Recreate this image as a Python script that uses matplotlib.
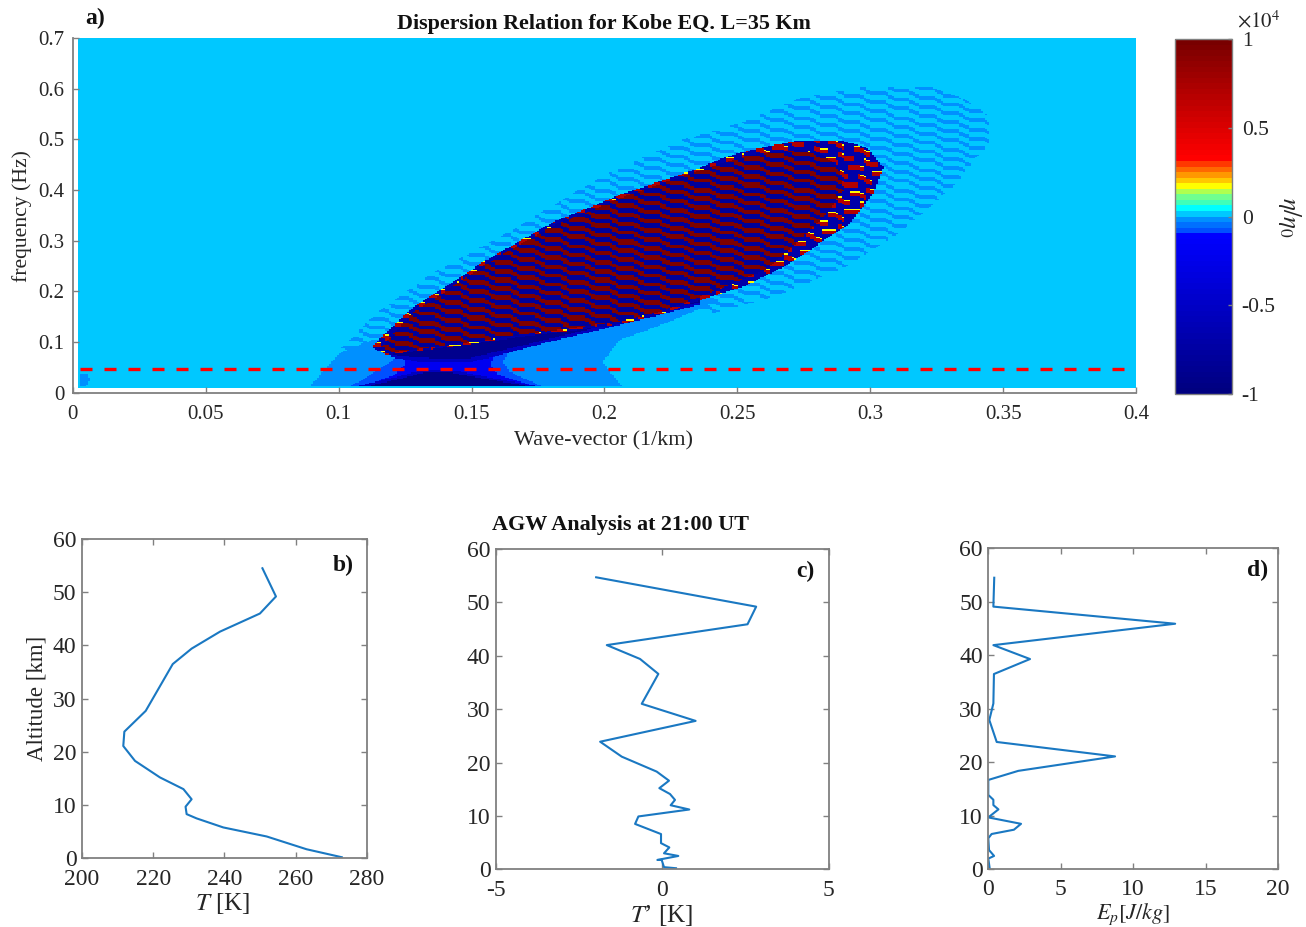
import numpy as np
import matplotlib
matplotlib.use('Agg')
import matplotlib.pyplot as plt
from matplotlib.colors import ListedColormap
from matplotlib.path import Path

plt.rcParams['font.family'] = ['Liberation Serif', 'DejaVu Serif']
plt.rcParams['mathtext.fontset'] = 'stix'
plt.rcParams['axes.unicode_minus'] = False

W, H = 1306, 927
GRAY = '#808080'
TXT = '#262626'
LINE = '#1a78c2'

# panel b
alt_b = [0.2, 1.7, 4.1, 5.8, 7.5, 8.3, 9.7, 11.1, 13, 15.2, 18.3, 21.1, 23.8, 27.7, 36.5, 39.4, 42.6, 46, 49.2, 54.5]
temp_b = [273, 263.1, 251.9, 239.7, 232.2, 229.4, 229.1, 230.8, 228.5, 221.9, 214.9, 211.6, 211.9, 217.9, 225.5, 230.8, 238.8, 250, 254.5, 250.7]

# panel c
alt_c = [0.2, 0.4, 1.75, 1.75, 2.5, 3, 4.1, 4.9, 6.6, 8.5, 9.9, 11.2, 12, 13, 14.1, 15.2, 16.6, 18.3, 21.1, 23.9, 27.8, 31, 36.6, 39.4, 42, 45.9, 49.2, 54.7]
tprime_c = [0.41, 0.05, -0.02, -0.15, 0.48, 0.05, 0.21, -0.04, -0.04, -0.82, -0.72, 0.81, 0.25, 0.38, 0.23, -0.09, 0.2, -0.17, -1.22, -1.87, 1.0, -0.62, -0.12, -0.67, -1.67, 2.56, 2.82, -1.99]

# panel d
alt_d = [0.1, 2, 2.5, 3.6, 5.8, 6.6, 7.4, 8.5, 9.7, 11.2, 12, 13, 13.9, 16.7, 18.4, 21.1, 23.8, 27.9, 31, 36.5, 39.3, 41.9, 45.9, 49.1, 54.5]
ep_d = [0.1, 0, 0.4, 0.05, 0, 0.23, 1.77, 2.26, 0, 0.7, 0.35, 0.35, 0, 0, 2.07, 8.75, 0.58, 0.07, 0.35, 0.39, 2.88, 0.35, 12.9, 0.35, 0.41]

# outlines of the regions in the dispersion map, (wave-vector, frequency)
outer_wave = [(.0994, .0783), (.1144, .1573), (.1355, .2362), (.1633, .3152), (.1983, .4257), (.2295, .4987),
              (.2521, .5342), (.2736, .5816), (.2961, .6014), (.3236, .6014), (.3364, .5777), (.3443, .5481),
              (.3450, .4928), (.3401, .4652), (.3326, .4139), (.3213, .3606), (.3086, .3073), (.2898, .2461),
              (.2634, .1889), (.2408, .1573), (.2058, .1829), (.1230, .1040)]
halo = [(.0892, .0112), (.0948, .0448), (.1005, .0783), (.1125, .104), (.1607, .1237), (.2359, .1928),
        (.2435, .183), (.2234, .1376), (.2059, .104), (.1991, .0606), (.2070, .0112)]
corner_spot = [(.0027, .0369), (.0057, .0369), (.0064, .0251), (.0049, .0112), (.0027, .0112)]
waist_mid = [(.1042, .0112), (.1137, .0408), (.1204, .0645), (.1230, .0843), (.1193, .1040), (.2359, .1889),
             (.2133, .1514), (.1832, .1139), (.1644, .0843), (.1618, .0606), (.1644, .0408), (.1769, .0112)]
waist_blue = [(.1080, .0112), (.1212, .0349), (.1249, .0547), (.1249, .0843), (.2322, .1829), (.2171, .1632),
              (.1870, .1237), (.1607, .0941), (.1570, .0547), (.1600, .0349), (.1750, .0112)]
soft_top = [(.1200, .0700), (.1300, .0610), (.1500, .0610), (.1620, .0760), (.1780, .0990), (.2060, .1340),
            (.2359, .1740), (.2359, .2027), (.1419, .1237), (.1182, .1040)]
navy_top = [(.1182, .0783), (.1230, .0724), (.1343, .0685), (.1494, .0685), (.1588, .0803), (.1757, .1020),
            (.2058, .1395), (.2359, .1790), (.2359, .2027), (.1419, .1237), (.1182, .1040)]
soft_bottom = [(.1060, .0112), (.1325, .0450), (.1419, .0450), (.1760, .0112)]
navy_bottom = [(.1100, .0112), (.1325, .0395), (.1419, .0395), (.1730, .0112)]
body = [(.1125, .0902), (.1268, .1632), (.1543, .2579), (.1806, .3369), (.2058, .3902), (.2359, .4435),
        (.2446, .4632), (.2547, .4790), (.2736, .4987), (.2886, .4987), (.2988, .4829), (.3048, .4454),
        (.3010, .3941), (.2924, .3349), (.2800, .2915), (.2672, .2481), (.2521, .2086), (.2359, .1829),
        (.2209, .1533), (.2047, .1336), (.1682, .1099), (.1419, .0902), (.1182, .0744)]
core = [(.1155, .0862), (.1276, .1560), (.1550, .2530), (.1814, .3320), (.2066, .3850), (.2359, .4390),
        (.2547, .4700), (.2736, .4800), (.2820, .4700), (.2880, .4450), (.2900, .4000), (.2830, .3500),
        (.2760, .3150), (.2680, .2750), (.2604, .2422), (.2359, .1889), (.2209, .1593), (.2047, .1395),
        (.1682, .1139), (.1419, .0941), (.1182, .0783)]

# one step of the zigzag ripple, in fractions of a ripple spacing
ripple_step = [0, 0, 0, 0, -0.19, -0.38, -0.56, -0.75]
ripple_drop = 0.75
ripple_df = 0.0178
ripple_dk = 0.0094

# colour levels of the map, 64 steps from -1 to 1
band_colors = ['#0050ff', '#0070ff', '#0090ff', '#00c8ff', '#00ffff', '#40ffb8', '#70ff90', '#b0ff50',
               '#ffff00', '#ffc800', '#ff9800', '#ff6800', '#ff3800']


def make_cmap():
    blues = np.zeros((29, 3))
    blues[:, 2] = np.linspace(0.5, 1, 29)
    reds = np.zeros((22, 3))
    reds[:, 0] = np.linspace(1, 0.47, 22)
    bands = [matplotlib.colors.to_rgb(c) for c in band_colors]
    return ListedColormap(np.vstack([blues, bands, reds]))


def px_axes(left, right, top, bottom):
    return fig.add_axes([left / W, 1 - bottom / H, (right - left) / W, (bottom - top) / H])


def style(ax, size, xpad, ypad, box=True):
    for s in ax.spines.values():
        s.set_color(GRAY)
        s.set_linewidth(1.3)
    ax.tick_params(direction='in', length=4, width=1, color=GRAY, labelcolor=TXT, labelsize=size,
                   top=box, right=box)
    ax.tick_params(axis='x', pad=xpad)
    ax.tick_params(axis='y', pad=ypad)
    if not box:
        ax.spines['top'].set_visible(False)
        ax.spines['right'].set_visible(False)


def ftext(x, y, s, **kw):
    kw.setdefault('color', TXT)
    kw.setdefault('fontsize', 16)
    fig.text(x / W, 1 - y / H, s, ha='center', va='center', **kw)


def build_field():
    k = np.arange(0.0024, 0.4004, 0.00075)
    f = np.arange(0.0112, 0.7006, 0.0025)
    kk, ff = np.meshgrid(k, f)
    pts = np.column_stack([kk.ravel(), ff.ravel()])

    def inside(poly):
        return Path(poly).contains_points(pts).reshape(kk.shape)

    idx = (np.mod(kk, ripple_dk) / ripple_dk * len(ripple_step)).astype(int) % len(ripple_step)
    steps = np.floor(kk / ripple_dk) * ripple_drop
    rows = ff / ripple_df + steps - np.array(ripple_step)[idx]
    phase = np.mod(rows, 1.0)
    stripe = phase < 0.5

    eta = np.full(kk.shape, 0.015)
    eta[inside(outer_wave) & (phase < 0.42)] = -0.015
    eta[inside(corner_spot)] = -0.015
    eta[inside(halo)] = -0.015
    eta[inside(waist_mid)] = -0.07
    eta[inside(waist_blue)] = -0.2
    eta[inside(soft_top)] = -0.55
    eta[inside(navy_top)] = -0.9
    eta[inside(soft_bottom)] = -0.55
    eta[inside(navy_bottom)] = -0.95
    # broken blobs along the rim, shifted from row to row, thin yellow edge under each
    blob = np.mod(idx + 3 * np.floor(rows).astype(int), 8) < 5
    m = inside(body)
    eta[m] = -0.7
    eta[m & stripe & blob] = 0.7
    eta[m & (phase >= 0.5) & (phase < 0.58) & blob] = 0.17
    m = inside(core)
    eta[m] = np.where(stripe[m], 0.95, -0.8)
    return k, f, eta


fig = plt.figure(figsize=(W / 100, H / 100), dpi=100)

# a) dispersion map
ax = px_axes(72.9, 1136, 38, 392.7)
k, f, eta = build_field()
mesh = ax.pcolormesh(k, f, eta, cmap=make_cmap(), vmin=-1, vmax=1, shading='nearest', rasterized=True)
ax.plot([0.0027, 0.4], [0.0458, 0.0458], color='#ff0000', lw=2.4, dashes=(3.6, 3.6))
ax.set_xlim(0, 0.4)
ax.set_ylim(0, 0.7)
ax.set_xticks([0, 0.05, 0.1, 0.15, 0.2, 0.25, 0.3, 0.35, 0.4])
ax.set_xticklabels(['0', '0.05', '0.1', '0.15', '0.2', '0.25', '0.3', '0.35', '0.4'])
ax.set_yticks([0, 0.1, 0.2, 0.3, 0.4, 0.5, 0.6, 0.7])
ax.set_yticklabels(['0', '0.1', '0.2', '0.3', '0.4', '0.5', '0.6', '0.7'])
style(ax, 15, 9, 6, box=False)

cax = px_axes(1175, 1232, 39, 394)
cb = fig.colorbar(mesh, cax=cax)
cb.set_ticks([-1, -0.5, 0, 0.5, 1])
cb.set_ticklabels(['-1', '-0.5', '0', '0.5', '1'])
cb.ax.tick_params(direction='in', length=3, width=1, color=GRAY, labelcolor=TXT, labelsize=15.5, pad=7)
cb.outline.set_edgecolor(GRAY)
cb.outline.set_linewidth(1)

ftext(604, 24, 'Dispersion Relation for Kobe EQ. L=35 Km', fontweight='bold', color='#111111', fontsize=15.8)
ftext(95, 18, 'a)', fontweight='bold', color='#111111', fontsize=17)
ftext(604, 441, 'Wave-vector (1/km)')
ftext(22, 216, 'frequency (Hz)', rotation=90, fontsize=15.6)
ftext(1259, 22, r'$\times 10^4$', fontsize=15)
ftext(1290, 217, r'$\eta/\eta_0$', rotation=270, fontsize=18)

# b) temperature
ax = px_axes(82, 366.7, 539, 858.3)
ax.plot(temp_b, alt_b, color=LINE, lw=1.5)
ax.set_xlim(200, 280)
ax.set_ylim(0, 60)
ax.set_xticks([200, 220, 240, 260, 280])
style(ax, 17, 8, 4)

# c) perturbation
ax = px_axes(496, 828.7, 549, 869.3)
ax.plot(tprime_c, alt_c, color=LINE, lw=1.5)
ax.set_xlim(-5, 5)
ax.set_ylim(0, 60)
ax.set_xticks([-5, 0, 5])
style(ax, 17, 8, 4)

# d) potential energy
ax = px_axes(988.3, 1278, 548.3, 869.3)
ax.plot(ep_d, alt_d, color=LINE, lw=1.5)
ax.set_xlim(0, 20)
ax.set_ylim(0, 60)
ax.set_xticks([0, 5, 10, 15, 20])
style(ax, 17, 7, 4)

ftext(621, 525, 'AGW Analysis at 21:00 UT', fontweight='bold', color='#111111', fontsize=15.9)
ftext(343, 565, 'b)', fontweight='bold', color='#111111', fontsize=17)
ftext(805, 571, 'c)', fontweight='bold', color='#111111', fontsize=17)
ftext(1258, 570, 'd)', fontweight='bold', color='#111111', fontsize=17)
ftext(37, 698, 'Altitude [km]', rotation=90, fontsize=16.5)
ftext(223, 904, r'$T$ [K]', fontsize=18)
ftext(662, 915, r'$T$’ [K]', fontsize=18)
ftext(1133, 914, r'$E_p[J/kg]$', fontsize=16)

fig.savefig('out.png', dpi=100)
